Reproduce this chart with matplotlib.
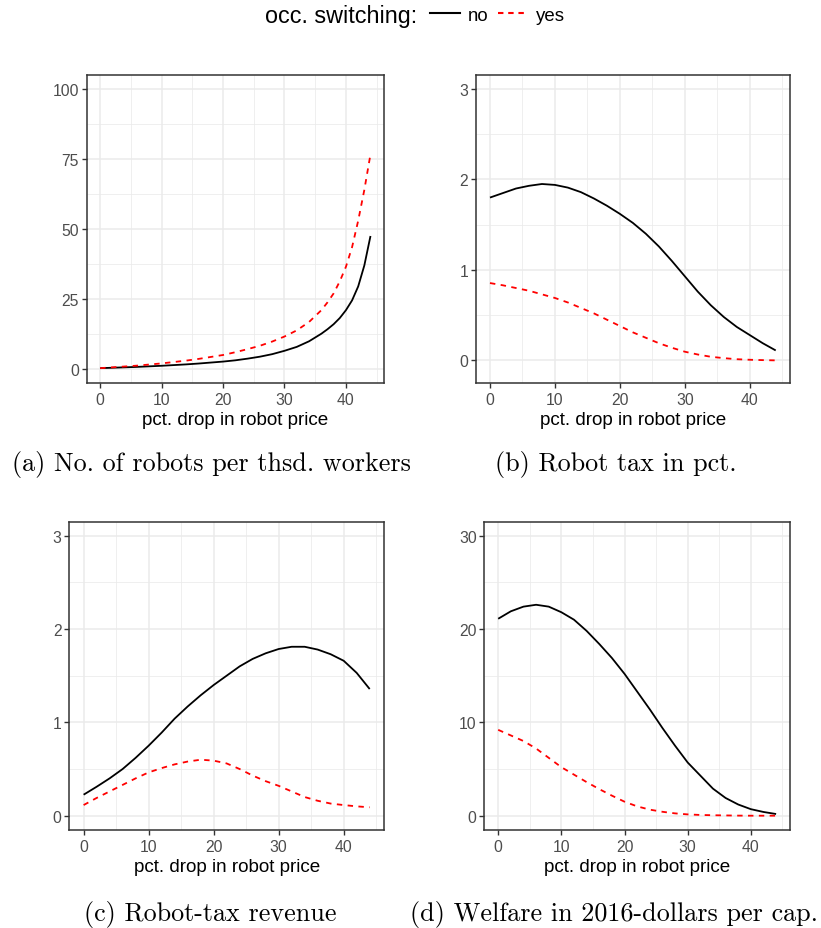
import matplotlib
matplotlib.use("Agg")
import matplotlib.pyplot as plt
from matplotlib.lines import Line2D
from matplotlib.ticker import MultipleLocator

plt.rcParams['font.family'] = ['Liberation Sans', 'DejaVu Sans']

# ---------------- data ----------------
x_a = [0, 2, 4, 6, 8, 10, 12, 14, 16, 18, 20, 22, 24, 26, 28, 30, 32, 34, 36, 37, 38, 39, 40, 41, 42, 43, 44]
robots_no = [0.3, 0.45, 0.6, 0.75, 0.95, 1.15, 1.4, 1.65, 1.95, 2.3, 2.65, 3.1, 3.7, 4.4, 5.3,
             6.5, 7.9, 9.9, 12.6, 14.2, 16.0, 18.2, 21.0, 24.5, 29.5, 37.0, 47.5]
robots_yes = [0.3, 0.6, 0.9, 1.2, 1.6, 2.0, 2.5, 3.0, 3.6, 4.3, 5.0, 6.0, 7.1, 8.3, 9.8,
              11.6, 13.8, 16.8, 21.0, 23.8, 27.0, 31.3, 36.5, 43.5, 53.0, 64.0, 76.7]

x_b = [0, 2, 4, 6, 8, 10, 12, 14, 16, 18, 20, 22, 24, 26, 28, 30, 32, 34, 36, 38, 40, 42, 44]
tax_no = [1.80, 1.85, 1.90, 1.93, 1.95, 1.94, 1.91, 1.86, 1.79, 1.71, 1.62, 1.52, 1.40, 1.26,
          1.10, 0.93, 0.76, 0.61, 0.48, 0.37, 0.28, 0.19, 0.11]
tax_yes = [0.855, 0.83, 0.80, 0.77, 0.73, 0.69, 0.64, 0.58, 0.52, 0.45, 0.38, 0.31, 0.25, 0.19,
           0.14, 0.096, 0.065, 0.04, 0.025, 0.013, 0.007, 0.003, 0.0]

rev_no = [0.225, 0.31, 0.40, 0.50, 0.62, 0.75, 0.89, 1.04, 1.17, 1.29, 1.40, 1.50, 1.60, 1.68,
          1.74, 1.786, 1.81, 1.81, 1.78, 1.73, 1.66, 1.53, 1.357]
rev_yes = [0.114, 0.19, 0.26, 0.33, 0.40, 0.464, 0.51, 0.55, 0.58, 0.60, 0.59, 0.56, 0.50, 0.43,
           0.37, 0.32, 0.26, 0.20, 0.16, 0.13, 0.114, 0.10, 0.09]

welf_no = [21.1, 21.9, 22.4, 22.6, 22.4, 21.8, 21.0, 19.8, 18.4, 16.9, 15.2, 13.3, 11.4, 9.4,
           7.5, 5.7, 4.3, 2.9, 1.9, 1.2, 0.7, 0.4, 0.18]
welf_yes = [9.2, 8.6, 8.0, 7.2, 6.2, 5.2, 4.4, 3.6, 2.85, 2.15, 1.5, 1.0, 0.65, 0.42,
            0.25, 0.14, 0.08, 0.05, 0.03, 0.01, 0.0, 0.0, 0.0]

x_ticks = [0, 10, 20, 30, 40]
xlabel = "pct. drop in robot price"
legend_title = "occ. switching:"
legend_labels = ["no", "yes"]
captions = ["(a) No. of robots per thsd. workers", "(b) Robot tax in pct.",
            "(c) Robot-tax revenue", "(d) Welfare in 2016-dollars per cap."]

# ---------------- figure ----------------
W, H = 821, 929
fig = plt.figure(figsize=(W / 100, H / 100), dpi=100)


def add_ax(l, r, t, b):
    return fig.add_axes([l / W, 1 - b / H, (r - l) / W, (b - t) / H])


panels = [
    (add_ax(86.7, 384, 76, 384), x_a, robots_no, robots_yes, (-5, 105), 25),
    (add_ax(475.7, 790, 76, 384), x_b, tax_no, tax_yes, (-0.25, 3.155), 1),
    (add_ax(69.3, 384, 522.7, 830.7), x_b, rev_no, rev_yes, (-0.15, 3.15), 1),
    (add_ax(484.3, 790, 522.7, 830.7), x_b, welf_no, welf_yes, (-1.5, 31.5), 10),
]

for ax, xs, yno, yyes, ylim, ystep in panels:
    ax.set_facecolor("white")
    ax.plot(xs, yno, color="black", lw=1.3, solid_capstyle="butt", zorder=3)
    ax.plot(xs, yyes, color="#FF0000", lw=1.3, dashes=(3, 3), zorder=3)
    ax.set_xlim(-2.2, 46.2)
    ax.set_ylim(*ylim)
    ax.set_xticks(x_ticks)
    ax.xaxis.set_minor_locator(MultipleLocator(5))
    ax.yaxis.set_major_locator(MultipleLocator(ystep))
    ax.yaxis.set_minor_locator(MultipleLocator(ystep / 2))
    ax.grid(which="major", color="#EBEBEB", lw=1.1, zorder=0)
    ax.grid(which="minor", color="#EBEBEB", lw=0.55, zorder=0)
    ax.set_axisbelow(True)
    for s in ax.spines.values():
        s.set_color("#333333")
        s.set_linewidth(1.1)
    ax.tick_params(which="major", length=3.5, width=1.0, color="#333333",
                   labelcolor="#4D4D4D", labelsize=11.3, pad=2)
    ax.tick_params(axis="x", which="major", pad=3)
    ax.tick_params(which="minor", length=0)
    ax.set_xlabel(xlabel, fontsize=13.6, color="black", labelpad=3)

# captions
cap_pos = [(211, 465), (616, 465), (210, 915), (613.5, 915)]
for (cx, cy), txt in zip(cap_pos, captions):
    fig.text(cx / W, 1 - cy / H, txt, ha="center", va="center",
             fontsize=18.8, family=["cmr10", "DejaVu Serif"])

# legend
fig.text(265 / W, 1 - 16 / H, legend_title, ha="left", va="center", fontsize=16.8)
handles = [Line2D([], [], color="black", lw=1.5),
           Line2D([], [], color="#FF0000", lw=1.5, dashes=(2.6, 2.3))]
fig.legend(handles, legend_labels, loc="center left", bbox_to_anchor=(430 / W, 1 - 16 / H),
           ncol=2, frameon=False, fontsize=13.4, handlelength=1.6, handletextpad=0.43,
           columnspacing=0.54, borderaxespad=0, borderpad=0)

fig.savefig("out.png", dpi=100, facecolor="white")
